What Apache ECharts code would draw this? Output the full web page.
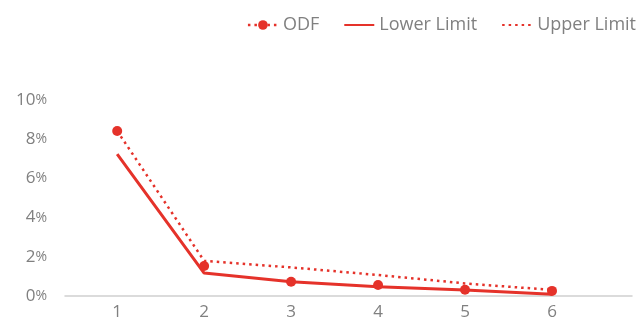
<!DOCTYPE html>
<html>
<head>
<meta charset="utf-8">
<script src="https://cdn.jsdelivr.net/npm/echarts@6/dist/echarts.min.js"></script>
<style>
  html, body { margin: 0; padding: 0; background: #fff; }
  #chart { width: 640px; height: 323px; }
</style>
</head>
<body>
<div id="chart"></div>
<script>
// Category positions on the x axis
const categories = [1, 2, 3, 4, 5, 6];
// Values in percent
const odf = [8.42, 1.53, 0.73, 0.56, 0.32, 0.26];
const lowerLimit = [7.24, 1.17, 0.73, 0.47, 0.31, 0.09];
const upperLimit = [8.42, 1.79, 1.46, 1.07, 0.64, 0.31];
const yTicks = [0, 2, 4, 6, 8, 10];

const RED = '#E5322A';
const GREY = '#808080';
const FONT = 'Open Sans';

const pairs = arr => arr.map((v, i) => [categories[i], v]);

const chart = echarts.init(document.getElementById('chart'));
chart.setOption({
  animation: false,
  textStyle: { fontFamily: FONT },
  grid: { left: 65, right: 8, top: 100, bottom: 27 },
  legend: {
    right: 4,
    top: 16,
    padding: 0,
    itemWidth: 30,
    itemHeight: 12,
    itemGap: 24,
    textStyle: { color: GREY, fontSize: 18, fontFamily: FONT },
    data: [
      { name: 'ODF', lineStyle: { opacity: 1, color: RED, width: 2.5, type: [2.5, 4] } },
      { name: 'Lower Limit', itemStyle: { opacity: 0 } },
      { name: 'Upper Limit', itemStyle: { opacity: 0 } }
    ]
  },
  xAxis: {
    type: 'value',
    min: 0.4,
    max: 6.92,
    splitLine: { show: false },
    axisLine: { show: true, lineStyle: { color: '#CFCFCF', width: 1.5 } },
    axisTick: { show: false },
    axisLabel: {
      customValues: categories,
      color: GREY,
      fontSize: 17,
      margin: 8
    }
  },
  yAxis: {
    type: 'value',
    min: 0,
    max: 10,
    interval: 2,
    splitLine: { show: false },
    axisLine: { show: false },
    axisTick: { show: false },
    axisLabel: {
      customValues: yTicks,
      margin: 18,
      formatter: v => '{n|' + v + '}{p|%}',
      rich: {
        n: { color: GREY, fontSize: 17, fontFamily: FONT },
        p: { color: GREY, fontSize: 14, fontFamily: FONT }
      }
    }
  },
  series: [
    {
      name: 'Upper Limit',
      type: 'line',
      data: pairs(upperLimit),
      symbol: 'none',
      color: RED,
      lineStyle: { color: RED, width: 2.5, type: [2.5, 4] },
      z: 2
    },
    {
      name: 'Lower Limit',
      type: 'line',
      data: pairs(lowerLimit),
      symbol: 'none',
      color: RED,
      lineStyle: { color: RED, width: 3 },
      z: 3
    },
    {
      name: 'ODF',
      type: 'line',
      data: pairs(odf),
      symbol: 'circle',
      symbolSize: 10,
      color: RED,
      itemStyle: { color: RED },
      lineStyle: { opacity: 0 },
      z: 4
    }
  ]
});
</script>
</body>
</html>
